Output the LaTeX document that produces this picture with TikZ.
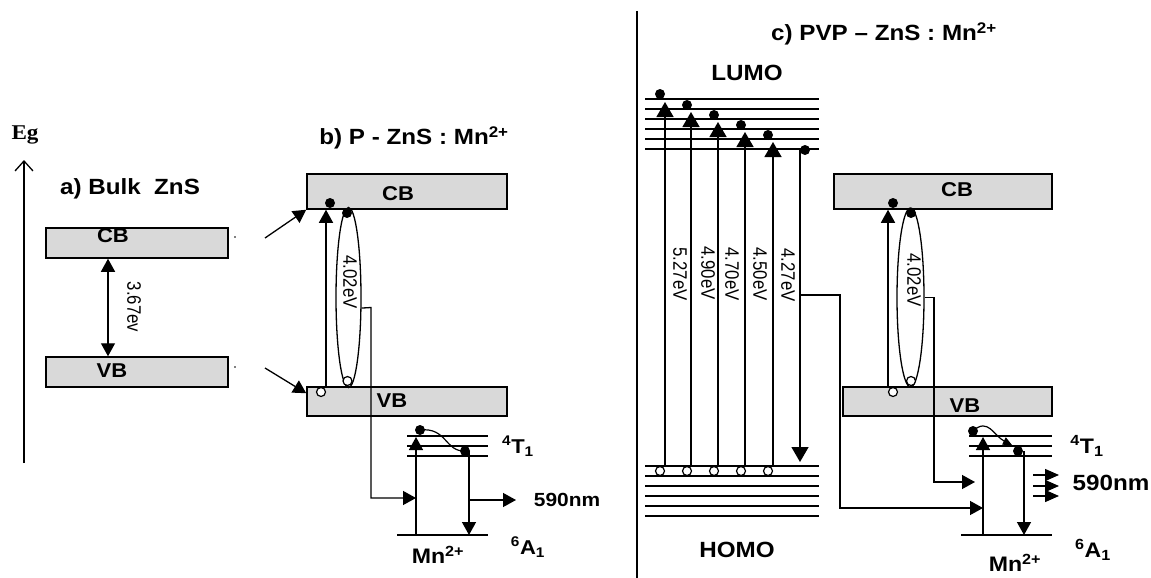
\documentclass[tikz,border=0pt]{standalone}
\usepackage{fontspec}
\setmainfont{Liberation Sans}[FakeStretch=1.1]
\newfontfamily\evfont{Liberation Sans}[FakeStretch=0.86]
\newfontfamily\serifwide{Liberation Serif}[FakeStretch=1.1]
\usetikzlibrary{arrows.meta,shapes.geometric}
\begin{document}
\begin{tikzpicture}[x=1pt,y=-1pt,
  line width=1.4pt,
  band/.style={draw, line width=1.5pt, fill=gray!30, inner sep=0pt},
  lbl/.style={inner sep=0pt, font=\bfseries\fontsize{20}{23}\selectfont},
  lblc/.style={inner sep=0pt, font=\bfseries\fontsize{21}{24}\selectfont},
  ttl/.style={inner sep=0pt, font=\bfseries\fontsize{22}{25}\selectfont},
  big/.style={inner sep=0pt, font=\bfseries\fontsize{22}{25}\selectfont},
  evl/.style={inner sep=0pt, rotate=-90, font=\evfont\fontsize{19.5}{22}\selectfont},
  tri/.style={-{Triangle[length=13pt,width=14pt]}},
  tril/.style={-{Triangle[length=15pt,width=17pt]}},
  trim/.style={-{Triangle[length=14pt,width=12pt]}},
  dtri/.style={{Triangle[length=13pt,width=14pt]}-{Triangle[length=13pt,width=14pt]}},
  conn/.style={line width=1.3pt},
  lvl/.style={line width=1.5pt},
  edot/.style={circle, fill=black, inner sep=0pt, minimum size=10pt},
  hole/.style={circle, draw, fill=white, line width=1.2pt, inner sep=0pt, minimum size=9pt},
  tiny/.style={circle, fill=black, inner sep=0pt, minimum size=1.6pt},
  orb/.style={ellipse, draw, line width=1.3pt, inner sep=0pt},
]
\useasboundingbox (0,0) rectangle (1151,578);

% ---------------- a) bulk ZnS ----------------
\node[inner sep=0pt, font=\serifwide\bfseries\fontsize{21}{24}\selectfont] (eg) at (25,135) {Eg};
\coordinate (egB) at (24,463);
\coordinate (egT) at (24,160);
\draw[-{Straight Barb[length=10pt,width=18pt]}, line width=1.3pt] (egB) -- (egT);

\node[ttl] (ta) at (130,189) {a) Bulk\ \ ZnS};
\node[band, minimum width=182pt, minimum height=30pt] (cbA) at (137,243) {};
\node[lbl] (cbAt) at (113,236) {CB};
\node[band, minimum width=182pt, minimum height=30pt] (vbA) at (137,372) {};
\node[lbl] (vbAt) at (112,371) {VB};
\coordinate (gx) at (108,300);
\draw[dtri] (gx |- cbA.south) -- (gx |- vbA.north);
\node[evl] (gapA) at (134,307) {3.67ev};
\node[tiny] (dA1) at (235,237) {};
\node[tiny] (dA2) at (235,367) {};

% ---------------- b) P-ZnS:Mn ----------------
\node[ttl] (tb) at (414,138) {b) P - ZnS : Mn\textsuperscript{2+}};
\node[band, minimum width=200pt, minimum height=35pt] (cbB) at (407,191.5) {};
\node[lbl] (cbBt) at (398,193.5) {CB};
\node[band, minimum width=200pt, minimum height=29pt] (vbB) at (407,401.5) {};
\node[lbl] (vbBt) at (392,401) {VB};

\coordinate (arA1) at (265,238);
\coordinate (arA2) at (265,368);
\draw[tri, conn] (arA1) -- (cbB.south west);
\draw[tri, conn] (arA2) -- ([yshift=-7pt]vbB.north west);

\coordinate (ubx) at (326,300);
\draw[tri] (ubx |- vbB.north) -- (ubx |- cbB.south);
\node[edot] (eB) at (330,203) {};
\node[hole] (hB) at (321,392) {};

\node[orb, minimum width=25pt, minimum height=180pt] (ellB) at (348.5,297.5) {};
\node[evl] (evB) at (350,282) {4.02eV};
\node[edot] (eB2) at (347,213) {};
\node[hole] (hB2) at (347.5,381) {};

\coordinate (mnBx) at (416,535);
\coordinate (cB1) at (371,307.5);
\coordinate (cB2) at (371,498);
\draw[tri, conn] (ellB.-39) -- (cB1) -- (cB2) -- (mnBx |- cB2);

\draw[lvl] (407,436) -- (488,436);
\draw[lvl] (407,446) -- (488,446);
\draw[lvl] (407,456) -- (488,456);
\draw[lvl] (397,535) -- (488,535);
\draw[tri] (mnBx) -- (416,437);
\node[edot] (eMB1) at (420,430) {};
\node[edot] (eMB2) at (465,451) {};
\draw[line width=1.2pt] (eMB1.center) .. controls (447,427) and (445,452) .. (eMB2.center);
\coordinate (dBx) at (469,535);
\draw[tri] (469,451) -- (dBx);
\coordinate (emB) at (469,500);
\coordinate (emBe) at (516,500);
\draw[tri] (emB) -- (emBe);
\node[lbl, font=\bfseries\fontsize{19}{22}\selectfont] (nmB) at (567,500) {590nm};
\node[lbl] (t1B) at (518,446) {\textsuperscript{4}T\textsubscript{1}};
\node[lbl] (a1B) at (528,547) {\textsuperscript{6}A\textsubscript{1}};
\node[lbl, font=\bfseries\fontsize{21}{24}\selectfont] (mnB) at (438,555) {Mn\textsuperscript{2+}};

% ---------------- c) PVP-ZnS:Mn ----------------
\coordinate (divT) at (637,11);
\coordinate (divB) at (637,578);
\draw[line width=1.8pt] (divT) -- (divB);
\node[ttl] (tc) at (884,34) {c) PVP -- ZnS : Mn\textsuperscript{2+}};
\node[big] (lumo) at (747,72.5) {LUMO};
\node[big] (homo) at (737,550) {HOMO};

\foreach \y in {99,109,119,129,139,149} \draw[lvl] (645,\y) -- (819,\y);
\foreach \y in {466,476,486,496,506,516} \draw[lvl] (645,\y) -- (819,\y);

\foreach \x/\t/\dx/\dy [count=\i] in {665/102/660/94, 691/112/687/105, 718/122/714/115, 745/132/741/125, 773/142/768/135}{
  \draw[tril] (\x,466) -- (\x,\t);
  \node[edot] (eL\i) at (\dx,\dy) {};
  \node[hole] (hH\i) at (\dx,471) {};
}
\node[edot] (eL6) at (805,150) {};
\coordinate (dL6) at (800,462);
\draw[tril] (800,150) -- (dL6);

\node[evl] (ev1) at (680,274) {5.27eV};
\node[evl] (ev2) at (708,273) {4.90eV};
\node[evl] (ev3) at (732,274) {4.70eV};
\node[evl] (ev4) at (760,274) {4.50eV};
\node[evl] (ev5) at (788,275) {4.27eV};

\node[band, minimum width=218pt, minimum height=35pt] (cbC) at (943,191.5) {};
\node[lbl] (cbCt) at (957,190) {CB};
\node[band, minimum width=209pt, minimum height=29pt] (vbC) at (947.5,401.5) {};
\node[lbl] (vbCt) at (965,405.5) {VB};

\coordinate (ucx) at (888,300);
\draw[tri] (ucx |- vbC.north) -- (ucx |- cbC.south);
\node[edot] (eC) at (893,203) {};
\node[hole] (hC) at (893,392) {};

\node[orb, minimum width=27pt, minimum height=179pt] (ellC) at (910.5,297.5) {};
\node[evl] (evC) at (914,280) {4.02eV};
\node[edot] (eC2) at (911,213) {};
\node[hole] (hC2) at (911,381) {};

\coordinate (mnCx) at (983,535);
\coordinate (c1s) at (800,295);
\coordinate (c1a) at (840,295);
\coordinate (c1b) at (840,508);
\draw[tri, conn] (c1s) -- (c1a) -- (c1b) -- (mnCx |- c1b);
\coordinate (c2a) at (934,297.5);
\coordinate (c2b) at (934,482);
\coordinate (c2e) at (975,482);
\draw[tri, conn] (ellC.east) -- (c2a) -- (c2b) -- (c2e);

\draw[lvl] (969,436) -- (1052,436);
\draw[lvl] (969,446) -- (1052,446);
\draw[lvl] (969,456) -- (1052,456);
\draw[lvl] (961,535) -- (1052,535);
\draw[tri] (mnCx) -- (983,437);
\node[edot] (eMC1) at (973,431) {};
\node[edot] (eMC2) at (1018,451) {};
\coordinate (crvC) at (1012,445);
\draw[-{Triangle[length=9pt,width=8pt]}, line width=1.2pt] (eMC1.center) .. controls (988,417) and (994,436) .. (crvC);
\draw[tri] (1024,451) -- (1024,535);
\foreach \y [count=\i] in {475,486,496}{
  \coordinate (emC\i) at (1033,\y);
  \draw[trim] (emC\i) -- (1059,\y);
}
\node[lblc, font=\bfseries\fontsize{22}{25}\selectfont] (nmC) at (1111,483) {590nm};
\node[lblc] (t1C) at (1087,446) {\textsuperscript{4}T\textsubscript{1}};
\node[lblc] (a1C) at (1093,550) {\textsuperscript{6}A\textsubscript{1}};
\node[lblc] (mnC) at (1015,563) {Mn\textsuperscript{2+}};
\end{tikzpicture}
\end{document}
